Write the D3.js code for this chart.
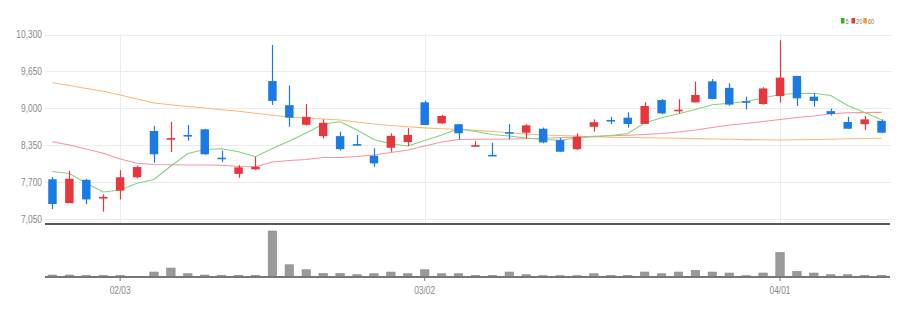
<!DOCTYPE html>
<html>
<head>
<meta charset="utf-8">
<script src="https://cdnjs.cloudflare.com/ajax/libs/d3/7.8.5/d3.min.js"></script>
<style>
    body { margin: 0; background: #fff; }
    text { font-family: "Liberation Sans", Arial, sans-serif; }
</style>
</head>
<body>
<script>
// trading days (2022), shown as MM/DD
dates = ['01/25','01/26','01/27','01/28','02/03','02/04','02/07','02/08','02/09','02/10',
         '02/11','02/14','02/15','02/16','02/17','02/18','02/21','02/22','02/23','02/24',
         '02/25','02/28','03/02','03/03','03/04','03/07','03/08','03/10','03/11','03/14',
         '03/15','03/16','03/17','03/18','03/21','03/22','03/23','03/24','03/25','03/28',
         '03/29','03/30','03/31','04/01','04/04','04/05','04/06','04/07','04/08','04/11']

open  = [7750,7330,7740,7410,7550,7785,8600,8460,8530,8630,8130,7845,7925,9480,9055,8710,8510,8510,8370,8165,
         8305,8405,9105,8735,8720,8340,8180,8580,8570,8640,8440,8280,8675,8795,8835,8725,9145,8960,9105,9475,
         9360,9125,9075,9215,9570,9205,8950,8760,8720,8780]
close = [7315,7760,7395,7440,7785,7965,8190,8475,8520,8190,8110,7960,7970,9130,8835,8850,8745,8280,8360,8030,
         8515,8530,8705,8865,8560,8350,8170,8570,8700,8400,8235,8500,8755,8785,8725,9040,8910,8975,9235,9165,
         9065,9110,9350,9540,9175,9130,8900,8640,8805,8570]
high  = [7790,7900,7760,7485,7910,7990,8690,8760,8705,8640,8255,8000,8145,10115,9400,9075,8805,8590,8530,8295,
         8560,8650,9135,8885,8720,8425,8395,8720,8720,8660,8480,8560,8805,8850,8930,9110,9165,9160,9470,9515,
         9440,9205,9370,10200,9570,9265,8995,8850,8865,8805]
low   = [7225,7330,7310,7180,7395,7765,8040,8230,8430,8180,8055,7775,7915,9060,8675,8695,8470,8255,8340,7970,
         8235,8335,8705,8725,8455,8335,8160,8455,8470,8385,8235,8265,8590,8720,8660,8725,8895,8910,9105,9160,
         9045,8980,9065,9100,9040,9030,8875,8640,8620,8560]

// volume, thousands of shares
volume = [40,40,30,30,30,14,100,180,66,40,34,34,34,926,246,146,74,74,46,66,
          100,66,146,66,66,34,34,100,46,26,26,26,66,34,34,100,66,100,134,100,
          80,26,80,494,114,80,46,46,34,34]

// moving averages as drawn
ma5  = [7887,7851,7679,7526,7561,7679,7746,7984,8204,8274,8288,8235,8147,8292,8424,8565,8723,8764,8618,8450,
        8371,8336,8433,8530,8641,8591,8538,8512,8477,8450,8436,8477,8500,8521,8556,8741,8834,8905,8979,9063,
        9088,9120,9181,9243,9261,9264,9226,9048,8926,8799]
ma20 = [8412,8354,8283,8207,8107,8031,8010,8006,8001,8001,7996,7975,7971,8054,8081,8098,8133,8133,8151,8177,
        8221,8265,8336,8406,8450,8454,8456,8459,8463,8472,8482,8494,8507,8516,8524,8538,8556,8583,8618,8662,
        8706,8732,8767,8803,8838,8864,8903,8921,8924,8928]
ma60 = [9451,9402,9349,9299,9234,9164,9093,9063,9032,9005,8975,8947,8912,8877,8847,8829,8812,8794,8759,8723,
        8697,8676,8656,8641,8630,8612,8591,8570,8547,8530,8521,8512,8500,8491,8486,8480,8477,8472,8466,8459,
        8454,8449,8445,8442,8445,8450,8456,8463,8468,8472]

priceTicks = [7050,7700,8350,9000,9650,10300]
dateTicks = ['02/03','03/02','04/01']
legendLabels = ['5','20','60']

width = 908
height = 312
left = 44
right = 890

svg = d3.select('body')
    .append('svg')
    .attr('width', width)
    .attr('height', height)

var xScale = d3.scaleBand()
    .domain(dates)
    .range([left, right])
    .paddingInner(0.5)
    .paddingOuter(0.25)

var yScale = d3.scaleLinear()
    .domain([7050, 10300])
    .range([219, 34.5])

var vScale = d3.scaleLinear()
    .domain([0, 1000])
    .range([277, 227.3])

var cx = d => xScale(d) + xScale.bandwidth() / 2

//horizontal grid
svg.append('g')
    .selectAll('line')
    .data(priceTicks)
    .enter()
    .append('line')
    .attr('x1', left + 1)
    .attr('x2', 892)
    .attr('y1', d => Math.round(yScale(d)) + 0.5)
    .attr('y2', d => Math.round(yScale(d)) + 0.5)
    .style('stroke', '#ececec')

//vertical grid at date ticks
svg.append('g')
    .selectAll('line')
    .data(dateTicks)
    .enter()
    .append('line')
    .attr('x1', d => Math.round(cx(d)) + 0.5)
    .attr('x2', d => Math.round(cx(d)) + 0.5)
    .attr('y1', 34)
    .attr('y2', 223)
    .style('stroke', '#ececec')

//y axis labels (narrowed like the original)
yAxis = svg.append('g')
    .attr('transform', 'translate(42,0)')
    .call(d3.axisLeft(yScale).tickValues(priceTicks).tickSize(0).tickPadding(0).tickFormat(d3.format(',')))
yAxis.select('.domain').remove()
yAxis.selectAll('text')
    .attr('transform', 'scale(0.8,1)')
    .style('font-size', '10.5px')
    .style('fill', '#888')

//moving averages
var lineOf = arr => d3.line()
    .x((d, i) => cx(dates[i]))
    .y(d => yScale(d))(arr)

svg.append('path').attr('d', lineOf(ma60)).style('fill', 'none').style('stroke', '#f7b878').style('stroke-width', 1.1)
svg.append('path').attr('d', lineOf(ma20)).style('fill', 'none').style('stroke', '#f5939e').style('stroke-width', 1.1)
svg.append('path').attr('d', lineOf(ma5)).style('fill', 'none').style('stroke', '#86d27c').style('stroke-width', 1.1)

//candles
var colorOf = i => close[i] >= open[i] ? '#e8363d' : '#1b7be6'

candles = svg.append('g')
    .selectAll('g')
    .data(dates)
    .enter()
    .append('g')

candles.append('line')
    .attr('x1', d => Math.round(cx(d)) + 0.5)
    .attr('x2', d => Math.round(cx(d)) + 0.5)
    .attr('y1', (d, i) => yScale(high[i]))
    .attr('y2', (d, i) => yScale(low[i]))
    .style('stroke', (d, i) => colorOf(i))
    .style('stroke-width', 1.2)

candles.append('rect')
    .attr('x', d => xScale(d))
    .attr('width', xScale.bandwidth())
    .attr('y', (d, i) => yScale(Math.max(open[i], close[i])))
    .attr('height', (d, i) => Math.max(1.6, Math.abs(yScale(open[i]) - yScale(close[i]))))
    .style('fill', (d, i) => colorOf(i))

//panel separator
svg.append('line')
    .attr('x1', 45).attr('x2', right)
    .attr('y1', 224).attr('y2', 224)
    .style('stroke', '#222')
    .style('stroke-width', 1.6)

//volume bars
svg.append('g')
    .selectAll('rect')
    .data(volume)
    .enter()
    .append('rect')
    .attr('x', (d, i) => xScale(dates[i]))
    .attr('width', xScale.bandwidth())
    .attr('y', d => vScale(d))
    .attr('height', d => 277 - vScale(d))
    .style('fill', '#9a9a9a')
    .style('stroke', '#8a8a8a')
    .style('stroke-width', 0.6)

//x axis
xAxis = svg.append('g')
    .attr('transform', 'translate(0,277)')
    .call(d3.axisBottom(xScale).tickValues(dateTicks).tickSize(4).tickPadding(6))
xAxis.select('.domain')
    .attr('d', 'M45,0H' + right)
    .style('stroke', '#777')
    .style('stroke-width', 1.8)
xAxis.selectAll('.tick line')
    .style('stroke', '#777')
xAxis.selectAll('text')
    .attr('transform', 'scale(0.8,1)')
    .style('font-size', '10.5px')
    .style('fill', '#888')

//legend
legendColors = ['#22b922', '#e83535', '#f59a35']
legend = svg.append('g')
    .attr('transform', 'translate(841,18)')

var lx = [0, 10.5, 22.3]
legendLabels.forEach(function(t, i) {
    legend.append('rect')
        .attr('x', lx[i])
        .attr('width', 3.5)
        .attr('height', 5.5)
        .style('fill', legendColors[i])
    legend.append('text')
        .text(t)
        .attr('transform', 'translate(' + (lx[i] + 4.6) + ',5.6) scale(0.75,1)')
        .style('font-size', '7.5px')
        .style('fill', '#777')
})
</script>
</body>
</html>
